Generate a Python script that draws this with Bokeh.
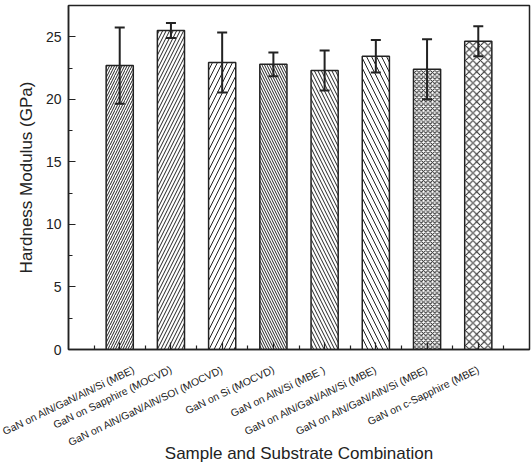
from bokeh.plotting import figure
from bokeh.models import ColumnDataSource, Whisker, TeeHead, FixedTicker, SingleIntervalTicker, Range1d
from bokeh.embed import file_html
from bokeh.resources import INLINE

labels = ["GaN on AlN/GaN/AlN/Si (MBE)", "GaN on Sapphire (MOCVD)", "GaN on AlN/GaN/AlN/SOI (MOCVD)",
          "GaN on Si (MOCVD)", "GaN on AlN/Si (MBE )", "GaN on AlN/GaN/AlN/Si (MBE)",
          "GaN on AlN/GaN/AlN/Si (MBE)", "GaN on c-Sapphire (MBE)"]
positions = [1, 2, 3, 4, 5, 6, 7, 8]
hardness = [22.7, 25.5, 22.95, 22.8, 22.3, 23.45, 22.4, 24.65]
errors = [3.05, 0.6, 2.4, 0.95, 1.6, 1.3, 2.4, 1.2]
patterns = ["/", "/", "/", "\\", "\\", "\\", "x", "x"]
scales = [5.0, 7.0, 10.0, 5.0, 7.0, 10.0, 4.5, 7.5]

src = ColumnDataSource(dict(
    x=positions, top=hardness,
    upper=[h + e for h, e in zip(hardness, errors)],
    lower=[h - e for h, e in zip(hardness, errors)],
    pat=patterns, sc=scales,
))

FONT = "Liberation Sans"
p = figure(width=531, height=468, output_backend="svg", toolbar_location=None,
           x_range=Range1d(0, 9), y_range=Range1d(0, 27.5),
           min_border_left=68, min_border_right=2, min_border_top=5, min_border_bottom=119)
p.background_fill_color = "white"
p.border_fill_color = "white"
p.outline_line_color = "#222222"
p.outline_line_width = 1.5
p.grid.visible = False

p.vbar(x="x", top="top", width=0.53, bottom=0, source=src, fill_color="white",
       line_color="#222222", line_width=1.5, hatch_pattern="pat", hatch_scale="sc",
       hatch_color="#222222", hatch_weight=1.0)

w = Whisker(base="x", upper="upper", lower="lower", source=src, line_color="#222222", line_width=2,
            upper_head=TeeHead(size=10, line_width=2, line_color="#222222"),
            lower_head=TeeHead(size=10, line_width=2, line_color="#222222"))
w.level = "overlay"
p.add_layout(w)

xa = p.xaxis[0]
xa.ticker = FixedTicker(ticks=positions, minor_ticks=[0.5 + i for i in range(9)])
xa.major_label_overrides = {pos: lab for pos, lab in zip(positions, labels)}
xa.major_label_orientation = 0.45
xa.major_label_text_font = FONT
xa.major_label_text_font_size = "10.5px"
xa.major_label_text_color = "#222222"
xa.major_label_standoff = 19
xa.axis_label = "Sample and Substrate Combination"
xa.axis_label_text_font = FONT
xa.axis_label_text_font_size = "17px"
xa.axis_label_text_font_style = "normal"
xa.axis_label_text_color = "#222222"
xa.axis_label_standoff = -12

ya = p.yaxis[0]
ya.ticker = SingleIntervalTicker(interval=5, num_minor_ticks=2)
ya.major_label_text_font = FONT
ya.major_label_text_font_size = "14px"
ya.major_label_text_color = "#222222"
ya.major_label_standoff = 7
ya.axis_label = "Hardness Modulus (GPa)"
ya.axis_label_text_font = FONT
ya.axis_label_text_font_size = "17px"
ya.axis_label_text_font_style = "normal"
ya.axis_label_text_color = "#222222"
ya.axis_label_standoff = 7

for ax in (xa, ya):
    ax.axis_line_width = 1.5
    ax.axis_line_color = "#222222"
    ax.major_tick_in = 7
    ax.major_tick_out = 0
    ax.minor_tick_in = 4
    ax.minor_tick_out = 0
    ax.major_tick_line_width = 1.2
    ax.minor_tick_line_width = 1.2
    ax.major_tick_line_color = "#222222"
    ax.minor_tick_line_color = "#222222"

open("out.html", "w").write(file_html(p, INLINE))
